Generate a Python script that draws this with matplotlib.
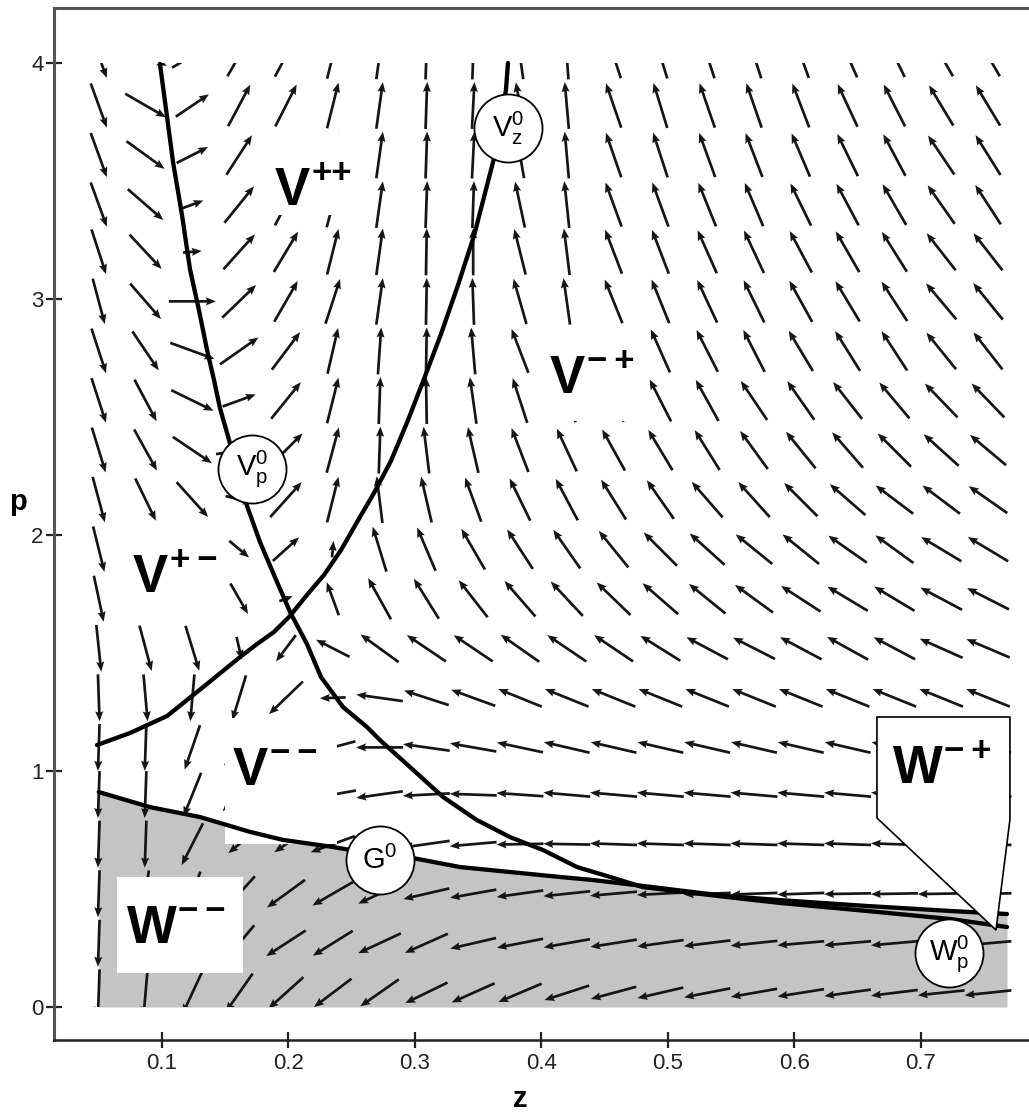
import numpy as np
import matplotlib
matplotlib.use('Agg')
import matplotlib.pyplot as plt
from matplotlib.patches import Rectangle, Polygon

plt.rcParams['font.family'] = ['Liberation Sans', 'DejaVu Sans']
plt.rcParams['mathtext.fontset'] = 'custom'
plt.rcParams['mathtext.rm'] = 'Liberation Sans'
plt.rcParams['mathtext.it'] = 'Liberation Sans:italic'
plt.rcParams['mathtext.bf'] = 'Liberation Sans:bold'

# ---------------- data ----------------
z_grid = [0.050, 0.087, 0.124, 0.161, 0.198, 0.235, 0.272, 0.309, 0.346, 0.383,
          0.420, 0.457, 0.494, 0.531, 0.568, 0.605, 0.642, 0.679, 0.716, 0.753]
p_grid = [0.06, 0.27, 0.48, 0.69, 0.90, 1.10, 1.31, 1.52, 1.73, 1.94,
          2.15, 2.36, 2.57, 2.78, 2.99, 3.20, 3.40, 3.61, 3.82, 4.03]

# direction of each field arrow (degrees, on screen), rows follow p_grid
arrow_angle_deg = [
    [268, 265, 245, 235, 222, 217, 215, 206, 204, 203, 198, 195, 193, 191, 190, 189, 188, 187, 186, 186],
    [268, 264, 245, 230, 213, 212, 205, 204, 193, 191, 190, 189, 188, 187, 186, 185, 185, 185, 185, 185],
    [268, 262, 250, 228, 216, 210, 205, 193, 190, 188, 186, 185, 183, 182, 182, 182, 181, 181, 181, 181],
    [268, 268, 243, 220, 215, 200, 195, 188, 185, 181, 179, 178, 178, 178, 178, 178, 178, 178, 178, 178],
    [268, 268, 248, 225, 210, 190, 188, 183, 178, 176, 175, 175, 175, 175, 175, 175, 175, 175, 175, 175],
    [268, 268, 251, 230, 215, 195, 180, 172, 170, 168, 167, 167, 167, 167, 167, 167, 167, 167, 167, 167],
    [272, 275, 265, 253, 224, 182, 172, 162, 160, 158, 158, 158, 158, 158, 158, 158, 158, 158, 158, 158],
    [276, 285, 287, 283, 233, 153, 144, 146, 146, 145, 146, 146, 148, 152, 153, 152, 151, 152, 156, 157],
    [282, 292, 296, 300, 20, 110, 119, 122, 128, 131, 133, 136, 139, 141, 144, 147, 149, 149, 152, 153],
    [284, 295, 305, 320, 42, 85, 107, 113, 120, 123, 125, 129, 135, 138, 141, 141, 145, 144, 149, 149],
    [285, 296, 312, 345, 48, 76, 97, 103, 110, 116, 118, 122, 125, 131, 132, 135, 139, 143, 143, 145],
    [287, 299, 326, 10, 45, 75, 88, 97, 103, 111, 115, 119, 121, 122, 126, 129, 131, 135, 138, 140],
    [288, 298, 334, 20, 51, 76, 88, 91, 98, 108, 112, 115, 117, 119, 124, 125, 128, 130, 134, 134],
    [288, 304, 340, 35, 53, 77, 86, 89, 95, 111, 112, 114, 114, 117, 117, 121, 122, 123, 129, 128],
    [285, 311, 0, 44, 60, 72, 82, 89, 92, 106, 98, 112, 112, 115, 116, 119, 121, 123, 130, 129],
    [288, 313, 5, 48, 59, 76, 82, 89, 90, 104, 97, 111, 111, 114, 115, 118, 120, 122, 128, 128],
    [290, 319, 20, 51, 62, 75, 82, 88, 88, 102, 96, 110, 110, 112, 113, 116, 118, 120, 125, 123],
    [290, 324, 27, 57, 63, 75, 82, 88, 87, 100, 95, 109, 108, 110, 111, 113, 116, 118, 124, 122],
    [290, 330, 34, 62, 63, 76, 82, 88, 87, 100, 95, 109, 107, 109, 109, 111, 115, 117, 121, 121],
    [290, 335, 30, 60, 62, 76, 82, 88, 88, 98, 94, 108, 107, 108, 108, 110, 114, 116, 120, 120],
]
# relative magnitude of the arrows that are visibly shorter (row, column): fraction
arrow_short = {(18, 2): 0.85, (17, 2): 0.75, (16, 2): 0.5, (15, 2): 0.4,
               (12, 3): 0.75, (10, 3): 0.6, (9, 3): 0.55, (8, 3): 0.75, (7, 3): 0.5,
               (9, 4): 0.75, (8, 4): 0.3, (7, 4): 0.7,
               (9, 5): 0.35, (8, 5): 0.75, (7, 5): 0.8, (6, 5): 0.55,
               (3, 3): 0.6, (3, 4): 0.6}

# nullcline V_z^0
vz_z = [0.0486, 0.0747, 0.1040, 0.1356, 0.1617, 0.1751, 0.1885, 0.2012, 0.2146, 0.2281, 0.2415,
        0.2542, 0.2676, 0.2810, 0.2945, 0.3071, 0.3206, 0.3340, 0.3466, 0.3625, 0.3680, 0.3719, 0.3735]
vz_p = [1.110, 1.161, 1.233, 1.369, 1.483, 1.538, 1.589, 1.657, 1.746, 1.831, 1.936,
        2.055, 2.178, 2.314, 2.487, 2.661, 2.852, 3.059, 3.267, 3.597, 3.758, 3.886, 4.000]
# nullcline V_p^0
vp_z = [0.0984, 0.1087, 0.1158, 0.1221, 0.1292, 0.1356, 0.1411, 0.1458, 0.1530, 0.1672, 0.1775,
        0.1885, 0.2012, 0.2146, 0.2257, 0.2431, 0.2621, 0.2723, 0.2960, 0.3221, 0.3490, 0.3751,
        0.4012, 0.4281, 0.4542, 0.4802, 0.5198, 0.5466, 0.5885, 0.6573, 0.7229, 0.7680]
vp_p = [3.996, 3.581, 3.356, 3.127, 2.953, 2.784, 2.657, 2.538, 2.403, 2.123, 1.970,
        1.831, 1.674, 1.538, 1.398, 1.271, 1.186, 1.131, 1.017, 0.890, 0.792, 0.720,
        0.665, 0.593, 0.551, 0.508, 0.483, 0.466, 0.441, 0.407, 0.373, 0.339]
# boundary G^0
g0_z = [0.050, 0.0905, 0.1300, 0.1696, 0.1957, 0.2352, 0.2723, 0.2984, 0.3356, 0.3751, 0.4146,
        0.4407, 0.4802, 0.5198, 0.5466, 0.5885, 0.6573, 0.7229, 0.7680]
g0_p = [0.911, 0.847, 0.805, 0.742, 0.708, 0.678, 0.644, 0.631, 0.593, 0.572, 0.551,
        0.538, 0.513, 0.487, 0.470, 0.453, 0.428, 0.407, 0.394]

TH = '\u2009'
MI = '\u2212'
region_main = ['V', 'V', 'V', 'V', 'W', 'W']
region_sup = ['++', MI + TH + '+', '+' + TH + MI, MI + TH + MI, MI + TH + MI, MI + TH + '+']
region_z = [0.1893, 0.4067, 0.0771, 0.1561, 0.0723, 0.6779]
region_p = [3.398, 2.602, 1.758, 0.941, 0.271, 0.949]

circle_text = [r'$\mathregular{V^0_z}$', r'$\mathregular{V^0_p}$', r'$\mathregular{G^0}$', r'$\mathregular{W^0_p}$']
circle_z = [0.3735, 0.1711, 0.2723, 0.7221]
circle_p = [3.7246, 2.280, 0.6229, 0.2288]

# ---------------- figure ----------------
W, H = 1029, 1113
fig = plt.figure(figsize=(W / 100, H / 100), dpi=100)
ax = fig.add_axes([54 / W, 73 / H, 975 / W, 1032 / H])
ax.set_xlim(0.01462, 0.7854)
ax.set_ylim(-0.1398, 4.233)

# shaded W region below G^0
ax.fill_between(g0_z, 0, g0_p, color='#c4c4c4', lw=0, zorder=1)

# direction field
Zg, Pg = np.meshgrid(z_grid, p_grid)
ang = np.radians(np.array(arrow_angle_deg, dtype=float))
mag = np.ones_like(ang)
for (i, j), f in arrow_short.items():
    mag[i, j] = f
L = 47.0
U = L * mag * np.cos(ang)
V = L * mag * np.sin(ang)
q = ax.quiver(Zg, Pg, U, V, angles='uv', scale_units='dots', scale=1, pivot='middle',
              units='dots', width=2.7, headwidth=3.0, headlength=3.7, headaxislength=3.3,
              color='#151515', zorder=2)
q.set_clip_path(Rectangle((0.0, 0.0), 0.8, 4.0, transform=ax.transData))

# white backgrounds behind region labels
boxes = [(0.184, 3.356, 0.069, 0.347), (0.3949, 2.483, 0.0845, 0.394),
         (0.067, 1.619, 0.0749, 0.415), (0.150, 0.69, 0.088, 0.535),
         (0.0644, 0.144, 0.0996, 0.407)]
for (x0, y0, w, h) in boxes:
    ax.add_patch(Rectangle((x0, y0), w, h, fc='white', ec='none', zorder=3))

# curves
for xs, ys in [(vz_z, vz_p), (vp_z, vp_p), (g0_z, g0_p)]:
    ax.plot(xs, ys, color='black', lw=3.1, zorder=4, solid_capstyle='round', solid_joinstyle='round')

# callout for W-+
ax.add_patch(Polygon([(0.6652, 1.2288), (0.7703, 1.2288), (0.7703, 0.7924), (0.7593, 0.3263), (0.6652, 0.8008)],
                     closed=True, fc='white', ec='black', lw=1.2, zorder=5))

main_w = {'V': 26.5, 'W': 37.0}
for m, s, x, y in zip(region_main, region_sup, region_z, region_p):
    ax.text(x, y, m, fontsize=38, fontweight='bold', ha='left', va='baseline', zorder=7)
    ax.annotate(s, xy=(x, y), xytext=(main_w[m], 16), textcoords='offset points',
                fontsize=25, fontweight='bold', ha='left', va='baseline', zorder=7)

# circled labels
ax.plot(circle_z, circle_p, 'o', ms=49, mfc='white', mec='black', mew=1.3, zorder=6, ls='none')
for t, x, y in zip(circle_text, circle_z, circle_p):
    ax.text(x, y, t, fontsize=21, ha='center', va='center', zorder=7)

# axes styling
ax.set_xticks([0.1, 0.2, 0.3, 0.4, 0.5, 0.6, 0.7])
ax.set_xticklabels(['0.1', '0.2', '0.3', '0.4', '0.5', '0.6', '0.7'])
ax.set_yticks([0, 1, 2, 3, 4])
ax.set_yticklabels(['0', '1', '2', '3', '4'])
ax.tick_params(direction='inout', length=11, width=1.6, labelsize=16, colors='#222222')
ax.tick_params(axis='x', pad=4)
ax.tick_params(axis='y', pad=2)
ax.spines['right'].set_visible(False)
ax.spines['left'].set_linewidth(2.2)
ax.spines['left'].set_color('#555555')
ax.spines['top'].set_linewidth(2.2)
ax.spines['top'].set_color('#555555')
ax.spines['bottom'].set_linewidth(1.8)
ax.spines['bottom'].set_color('#222222')

ax.set_xlabel('z', fontsize=21, fontweight='bold', va='baseline')
ax.set_ylabel('p', fontsize=21, fontweight='bold', rotation=0, va='baseline', ha='center')
ax.xaxis.set_label_coords(0.478, -0.065)
ax.yaxis.set_label_coords(-0.037, 0.5136)

fig.savefig('out.png', dpi=100)
